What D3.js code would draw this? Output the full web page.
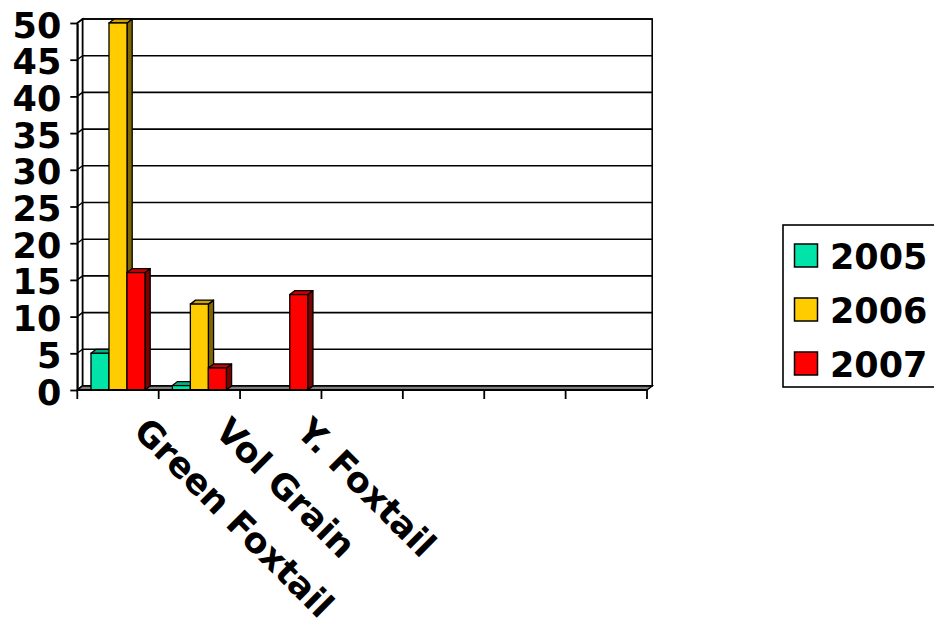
<!DOCTYPE html>
<html>
<head>
<meta charset="utf-8">
<script src="https://cdn.jsdelivr.net/npm/d3@7"></script>
<style>
  html, body { margin: 0; padding: 0; background: #fff; }
  svg { display: block; }
  text { font-family: "DejaVu Sans", Verdana, sans-serif; font-weight: bold; fill: #000; }
</style>
</head>
<body>
<svg id="chart" width="934" height="626"></svg>
<script>
// ---- data ----
const categories = ["Green Foxtail", "Vol Grain", "Y. Foxtail", "", "", "", ""];
const years = ["2005", "2006", "2007"];
const values2005 = [5, 0.6, 0, null, null, null, null];
const values2006 = [50, 11.7, 0, null, null, null, null];
const values2007 = [16, 3, 13, null, null, null, null];
const yTicks = [0, 5, 10, 15, 20, 25, 30, 35, 40, 45, 50];

const seriesValues = [values2005, values2006, values2007];
const frontColors = ["#00E4AA", "#FFCC00", "#FF0000"];
const topColors   = ["#00B387", "#CCA300", "#CC0000"];
const sideColors  = ["#007355", "#806600", "#800000"];

// ---- layout ----
const svg = d3.select("#chart");
const plotL = 77.3, plotR = 647, plotB = 390, plotT = 23;
const dx = 5.2, dy = -4;

const x = d3.scaleBand().domain(d3.range(categories.length)).range([plotL, plotR]).padding(0);
const xs = d3.scaleBand().domain(years).range([0, x.bandwidth()]).paddingInner(0).paddingOuter(0.76);
const y = d3.scaleLinear().domain([0, 50]).range([plotB, plotT]);

const g = svg.append("g");
const poly = (pts) => "M" + pts.map(p => p.join(",")).join("L") + "Z";

// back wall
g.append("rect")
  .attr("x", plotL + dx).attr("y", y(50) + dy)
  .attr("width", plotR - plotL).attr("height", y(0) - y(50))
  .attr("fill", "#fff").attr("stroke", "#000").attr("stroke-width", 1.6);

// side wall
g.append("path")
  .attr("d", poly([[plotL, y(0)], [plotL, y(50)], [plotL + dx, y(50) + dy], [plotL + dx, y(0) + dy]]))
  .attr("fill", "#fff").attr("stroke", "#000").attr("stroke-width", 1.6);

// gridlines on back wall and side wall
yTicks.forEach(v => {
  g.append("line")
    .attr("x1", plotL + dx).attr("x2", plotR + dx)
    .attr("y1", y(v) + dy).attr("y2", y(v) + dy)
    .attr("stroke", "#000").attr("stroke-width", 1.6);
  g.append("line")
    .attr("x1", plotL).attr("x2", plotL + dx)
    .attr("y1", y(v)).attr("y2", y(v) + dy)
    .attr("stroke", "#000").attr("stroke-width", 1.4);
});

// floor
g.append("path")
  .attr("d", poly([[plotL, y(0)], [plotR, y(0)], [plotR + dx, y(0) + dy], [plotL + dx, y(0) + dy]]))
  .attr("fill", "#808080").attr("stroke", "#000").attr("stroke-width", 1.4);

// bars
const bars = [];
categories.forEach((c, i) => {
  years.forEach((yr, s) => {
    const v = seriesValues[s][i];
    if (v != null && v > 0) bars.push({ i, s, yr, v });
  });
});
const barG = g.append("g");
bars.forEach(b => {
  const x0 = x(b.i) + xs(b.yr), w = xs.bandwidth();
  const y0 = y(0), yv = y(b.v);
  barG.append("path")
    .attr("d", poly([[x0 + w, yv], [x0 + w + dx, yv + dy], [x0 + w + dx, y0 + dy], [x0 + w, y0]]))
    .attr("fill", sideColors[b.s]).attr("stroke", "#000").attr("stroke-width", 1.3).attr("stroke-linejoin", "round");
  barG.append("path")
    .attr("d", poly([[x0, yv], [x0 + dx, yv + dy], [x0 + w + dx, yv + dy], [x0 + w, yv]]))
    .attr("fill", topColors[b.s]).attr("stroke", "#000").attr("stroke-width", 1.3).attr("stroke-linejoin", "round");
  barG.append("rect")
    .attr("x", x0).attr("y", yv).attr("width", w).attr("height", y0 - yv)
    .attr("fill", frontColors[b.s]).attr("stroke", "#000").attr("stroke-width", 1.3);
});

// y axis
const yAxis = d3.axisLeft(y).tickValues(yTicks).tickSize(7).tickSizeOuter(0).tickPadding(9);
const yAx = svg.append("g").attr("transform", `translate(${plotL},0)`).call(yAxis);
yAx.select(".domain").attr("stroke", "#000").attr("stroke-width", 1.8);
yAx.selectAll(".tick line").attr("stroke", "#000").attr("stroke-width", 1.8);
yAx.selectAll(".tick text")
  .style("font-family", '"DejaVu Sans", sans-serif').style("font-weight", "bold")
  .attr("font-size", 35).attr("dy", null).attr("y", 14).attr("fill", "#000");

// x axis: front line, boundary ticks, labels
svg.append("line")
  .attr("x1", plotL).attr("x2", plotR).attr("y1", y(0)).attr("y2", y(0))
  .attr("stroke", "#000").attr("stroke-width", 1.8);
svg.append("g").selectAll("line")
  .data(d3.range(categories.length + 1))
  .join("line")
  .attr("x1", i => plotL + i * x.step()).attr("x2", i => plotL + i * x.step())
  .attr("y1", y(0)).attr("y2", y(0) + 9)
  .attr("stroke", "#000").attr("stroke-width", 1.8);

const xAxis = d3.axisBottom(x).tickFormat(i => categories[i]).tickSize(0).tickSizeOuter(0);
const xAx = svg.append("g").attr("transform", `translate(0,${y(0)})`).call(xAxis);
xAx.select(".domain").remove();
xAx.selectAll(".tick text")
  .style("font-family", '"DejaVu Sans", sans-serif').style("font-weight", "bold")
  .attr("font-size", 35).attr("fill", "#000")
  .attr("text-anchor", "start").attr("dy", null).attr("y", null)
  .attr("transform", "translate(14,43) rotate(45)");

// legend
const lg = svg.append("g");
lg.append("rect")
  .attr("x", 783).attr("y", 225).attr("width", 170).attr("height", 162)
  .attr("fill", "#fff").attr("stroke", "#000").attr("stroke-width", 1.6);
years.forEach((yr, s) => {
  const ry = 244 + s * 54;
  lg.append("rect")
    .attr("x", 794.5).attr("y", ry).attr("width", 23).attr("height", 23)
    .attr("fill", frontColors[s]).attr("stroke", "#000").attr("stroke-width", 1.5);
  lg.append("text")
    .attr("x", 830).attr("y", ry + 25)
    .attr("font-size", 35)
    .text(yr);
});
</script>
</body>
</html>
